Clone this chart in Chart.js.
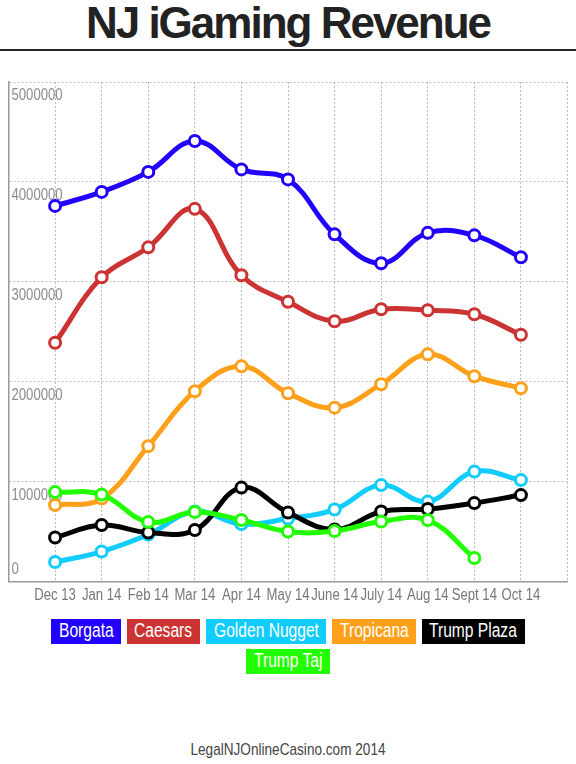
<!DOCTYPE html>
<html>
<head>
<meta charset="utf-8">
<title>NJ iGaming Revenue</title>
<script src="https://cdn.jsdelivr.net/npm/chart.js@4/dist/chart.umd.min.js"></script>
<style>
  body { margin: 0; background: #fff; width: 576px; height: 764px; position: relative; overflow: hidden; }
  #title { position: absolute; top: 0; left: 0; width: 576px; text-align: center; font: bold 44px "Liberation Sans", Arial, sans-serif; letter-spacing: -2px; color: #222; line-height: 46px; }
  #rule { position: absolute; top: 49px; left: 0; width: 576px; height: 2px; background: #222; }
  #wrap { position: absolute; top: 70px; left: 0; width: 576px; height: 540px; }
  #legend { position: absolute; top: 619px; left: 38px; width: 500px; display: flex; flex-wrap: wrap; justify-content: center; gap: 5px 6px; }
  #legend .box { display: block; height: 25px; line-height: 25px; padding: 0 7.5px; overflow: visible; white-space: nowrap; }
  #legend .txt { display: inline-block; color: #fff; font: 20px "Liberation Sans", Arial, sans-serif; transform: scaleX(0.78); transform-origin: 0 50%; }
  #footer { position: absolute; top: 740px; left: 0; width: 576px; text-align: center; color: #444; font: 17px "Liberation Sans", Arial, sans-serif; transform: scaleX(0.8); transform-origin: 50% 50%; }
</style>
</head>
<body>
<div id="title">NJ iGaming Revenue</div>
<div id="rule"></div>
<div id="wrap"><canvas id="myChart"></canvas></div>
<div id="legend"></div>
<div id="footer">LegalNJOnlineCasino.com 2014</div>
<script>
let months = ['Dec 13', 'Jan 14', 'Feb 14', 'Mar 14', 'Apr 14', 'May 14', 'June 14', 'July 14', 'Aug 14', 'Sept 14', 'Oct 14']
let yTicks = [0, 1000000, 2000000, 3000000, 4000000, 5000000]

let names = ['Borgata', 'Caesars', 'Golden Nugget', 'Tropicana', 'Trump Plaza', 'Trump Taj']
let colors = ['#2200ff', '#cc3333', '#11ccff', '#ffa01a', '#000000', '#22ff00']

let borgata = [3760000, 3900000, 4100000, 4410000, 4125000, 4025000, 3475000, 3185000, 3490000, 3465000, 3245000]
let caesars = [2390000, 3045000, 3345000, 3730000, 3065000, 2800000, 2605000, 2725000, 2715000, 2675000, 2470000]
let goldenNugget = [195000, 300000, 470000, 700000, 575000, 630000, 720000, 965000, 800000, 1100000, 1015000]
let tropicana = [765000, 830000, 1355000, 1905000, 2155000, 1885000, 1740000, 1975000, 2275000, 2055000, 1935000]
let trumpPlaza = [440000, 565000, 490000, 515000, 940000, 690000, 520000, 700000, 725000, 785000, 865000]
let trumpTaj = [895000, 870000, 595000, 695000, 615000, 500000, 505000, 600000, 615000, 235000, null]

let series = [borgata, caesars, goldenNugget, tropicana, trumpPlaza, trumpTaj]
let sans = '"Liberation Sans", Arial, sans-serif'
let squeeze = 0.82

// legend boxes under the chart, text squeezed to look like a narrow font
let measure = document.createElement('canvas').getContext('2d')
measure.font = '20px ' + sans
let legend = document.getElementById('legend')
names.forEach((n, i) => {
  let box = document.createElement('span')
  let txt = document.createElement('span')
  box.className = 'box'
  txt.className = 'txt'
  txt.textContent = n
  box.style.background = colors[i]
  box.style.width = (measure.measureText(n).width * 0.78) + 'px'
  box.appendChild(txt)
  legend.appendChild(box)
})

function narrowText(ctx, text, x, y) {
  ctx.save()
  ctx.translate(x, y)
  ctx.scale(squeeze, 1)
  ctx.fillText(text, 0, 0)
  ctx.restore()
}

// y labels sit inside the plot just under their grid line (0 sits above the axis),
// x labels are drawn narrow under the axis
let axisLabels = {
  id: 'axisLabels',
  beforeDatasetsDraw(chart) {
    let ctx = chart.ctx, x = chart.scales.x, y = chart.scales.y, area = chart.chartArea
    ctx.save()
    ctx.font = '16px ' + sans
    ctx.fillStyle = '#8c8c8c'
    ctx.textBaseline = 'middle'
    ctx.textAlign = 'left'
    y.ticks.forEach(t => {
      let py = y.getPixelForValue(t.value)
      narrowText(ctx, String(t.value), area.left + 3, t.value === 0 ? py - 12 : py + 14)
    })
    ctx.fillStyle = '#777'
    ctx.textAlign = 'center'
    ctx.textBaseline = 'alphabetic'
    months.forEach((m, i) => {
      narrowText(ctx, m, x.getPixelForValue(i), area.bottom + 18.5)
    })
    ctx.restore()
  }
}

let datasets = series.map((vals, i) => ({
  label: names[i],
  data: vals.map((v, j) => ({ x: j, y: v })),
  borderColor: colors[i],
  backgroundColor: '#fff',
  pointBackgroundColor: '#fff',
  pointBorderColor: colors[i],
  pointRadius: 5.5,
  pointBorderWidth: 3,
  borderWidth: 5,
  tension: 0.4,
  fill: false,
  order: names.length - i
}))

let grid = { color: '#bcbcbc', lineWidth: 1, drawTicks: false }
let border = { display: true, color: '#999', width: 1.5, dash: [2, 2] }

let chart = new Chart(document.getElementById('myChart').getContext('2d'), {
  type: 'line',
  data: { datasets: datasets },
  options: {
    responsive: true,
    maintainAspectRatio: false,
    animation: false,
    layout: { padding: { top: 12, left: 8, right: 8, bottom: 0 } },
    plugins: { legend: { display: false }, tooltip: { enabled: false } },
    scales: {
      x: {
        type: 'linear',
        min: -1,
        max: months.length,
        grid: grid,
        border: border,
        ticks: { display: false, stepSize: 1 },
        afterFit: s => { s.height = 28.5 }
      },
      y: {
        min: 0,
        max: 5000000,
        grid: grid,
        border: border,
        ticks: { display: false },
        afterBuildTicks: s => { s.ticks = yTicks.map(v => ({ value: v })) },
        afterFit: s => { s.width = 0 }
      }
    }
  },
  plugins: [axisLabels]
})
</script>
</body>
</html>
